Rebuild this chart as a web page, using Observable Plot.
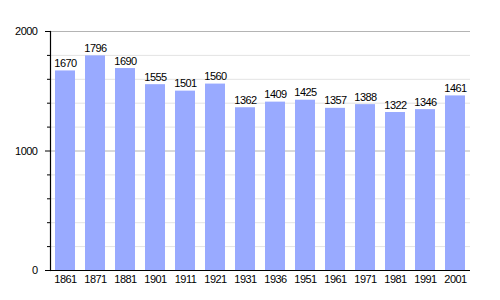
<!DOCTYPE html>
<html>
<head>
<meta charset="utf-8">
<script src="https://cdn.jsdelivr.net/npm/d3@7"></script>
<script src="https://cdn.jsdelivr.net/npm/@observablehq/plot@0.6"></script>
<style>
  html, body { margin: 0; padding: 0; background: #fff; }
  #chart svg { display: block; }
  #chart svg text { letter-spacing: -0.5px; }
</style>
</head>
<body>
<div id="chart"></div>
<script>
const years = ["1861","1871","1881","1901","1911","1921","1931","1936","1951","1961","1971","1981","1991","2001"];
const population = [1670,1796,1690,1555,1501,1560,1362,1409,1425,1357,1388,1322,1346,1461];
const majorTicks = [0, 1000, 2000];
const minorTicks = [200, 400, 600, 800, 1200, 1400, 1600, 1800];

const data = years.map((y, i) => ({year: y, value: population[i]}));

const chart = Plot.plot({
  width: 500,
  height: 300,
  marginLeft: 50,
  marginRight: 30,
  marginTop: 31,
  marginBottom: 30,
  style: {fontFamily: "'Liberation Sans', Arial, sans-serif", fontSize: "11px", color: "#000", background: "#fff"},
  x: {domain: years, paddingInner: 0.33, paddingOuter: 0.05, label: null},
  y: {domain: [0, 2000], label: null},
  marks: [
    Plot.ruleY(minorTicks, {stroke: "#e3e3e3", strokeWidth: 1}),
    Plot.ruleY([1000, 2000], {stroke: "#b4b4b4", strokeWidth: 1}),
    Plot.barY(data, {x: "year", y: "value", fill: "#99aaff"}),
    Plot.text(data, {x: "year", y: "value", text: d => String(d.value), lineAnchor: "bottom", dy: -4, fill: "#000"}),
    Plot.axisY(majorTicks, {tickSize: 5, tickPadding: 8, tickFormat: "d", stroke: "#000", fill: "#000", label: null}),
    Plot.axisY(minorTicks, {tickSize: 3, text: null, stroke: "#000", label: null}),
    Plot.axisX({tickSize: 0, tickPadding: 5, label: null, fill: "#000"}),
    Plot.ruleY([0], {stroke: "#000", strokeWidth: 1.2}),
    Plot.frame({anchor: "left", stroke: "#000", strokeWidth: 1.2})
  ]
});
document.getElementById("chart").appendChild(chart);
</script>
</body>
</html>
